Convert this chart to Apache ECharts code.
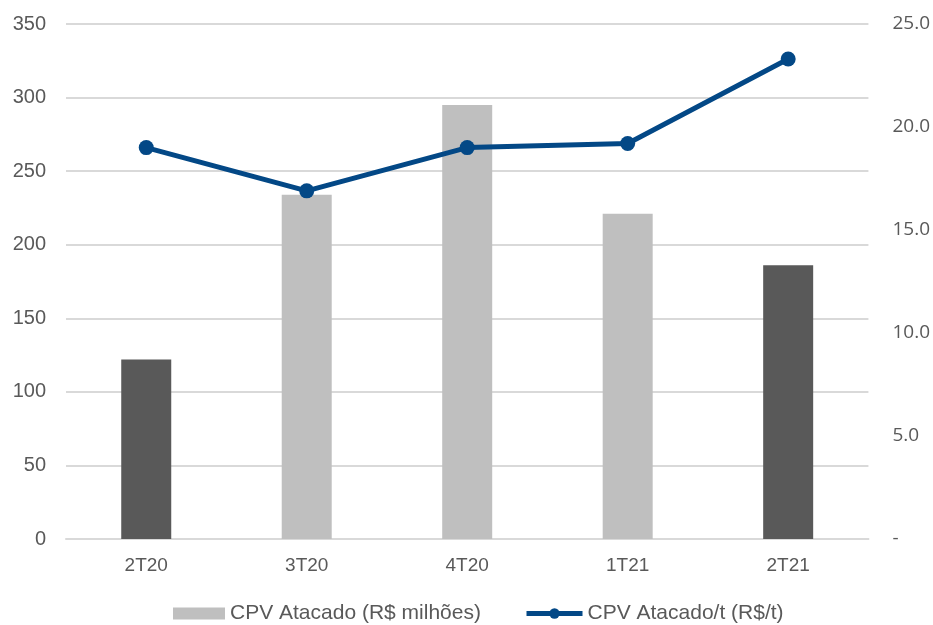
<!DOCTYPE html>
<html>
<head>
<meta charset="utf-8">
<script src="https://cdn.jsdelivr.net/npm/echarts@6/dist/echarts.min.js"></script>
<style>
  html, body { margin: 0; padding: 0; background: #ffffff; }
  #chart { width: 933px; height: 625px; }
</style>
</head>
<body>
<div id="chart"></div>
<script>
// Quarters shown on the category axis
const quarters = ['2T20', '3T20', '4T20', '1T21', '2T21'];
// Cost of goods sold, wholesale (R$ millions)
const cpvMilhoes = [122, 234, 295, 221, 186];
// Cost of goods sold per tonne (R$/t)
const cpvPorTonelada = [19.0, 16.9, 19.0, 19.2, 23.3];
// Quarters highlighted with the darker bar
const highlighted = ['2T20', '2T21'];

const barDark = '#595959';
const barLight = '#bfbfbf';
const lineBlue = '#034886';
const textGrey = '#595959';
const sans = 'Liberation Sans, Arial, sans-serif';

const chart = echarts.init(document.getElementById('chart'), null, { renderer: 'canvas' });

const barData = cpvMilhoes.map((v, i) => ({
  value: v,
  itemStyle: { color: highlighted.includes(quarters[i]) ? barDark : barLight }
}));

chart.setOption({
  animation: false,
  grid: { left: 66, right: 64, top: 24, bottom: 86, containLabel: false },
  legend: [
    {
      data: [{ name: 'CPV Atacado (R$ milhões)', icon: 'rect', itemStyle: { color: barLight } }],
      left: 173, top: 603, padding: 0,
      itemWidth: 52, itemHeight: 12, itemGap: 5,
      textStyle: { fontFamily: sans, fontSize: 21, color: textGrey }
    },
    {
      data: [{
        name: 'CPV Atacado/t (R$/t)',
        lineStyle: { color: lineBlue, width: 5 },
        itemStyle: { color: lineBlue }
      }],
      left: 524, top: 603, padding: 0,
      itemWidth: 56, itemHeight: 13, itemGap: 3,
      textStyle: { fontFamily: sans, fontSize: 21, color: textGrey }
    }
  ],
  xAxis: {
    type: 'category',
    data: quarters,
    axisLine: { lineStyle: { color: '#d9d9d9', width: 2 } },
    axisTick: { show: false },
    axisLabel: { fontFamily: sans, fontSize: 19, color: textGrey, margin: 17 }
  },
  yAxis: [
    {
      type: 'value', min: 0, max: 350, interval: 50,
      axisLine: { show: false }, axisTick: { show: false },
      splitLine: { lineStyle: { color: '#d9d9d9', width: 2 } },
      axisLabel: { fontFamily: sans, fontSize: 20, color: textGrey, margin: 20 }
    },
    {
      type: 'value', min: 0, max: 25, interval: 5,
      axisLine: { show: false }, axisTick: { show: false },
      splitLine: { show: false },
      axisLabel: {
        fontFamily: 'Open Sans, sans-serif', fontSize: 19, color: textGrey, margin: 24,
        formatter: v => v === 0 ? '-' : v.toFixed(1)
      }
    }
  ],
  series: [
    {
      name: 'CPV Atacado (R$ milhões)',
      type: 'bar',
      data: barData,
      barWidth: 50,
      itemStyle: { color: barLight }
    },
    {
      name: 'CPV Atacado/t (R$/t)',
      type: 'line',
      yAxisIndex: 1,
      data: cpvPorTonelada,
      symbol: 'circle',
      symbolSize: 15,
      lineStyle: { color: lineBlue, width: 5 },
      itemStyle: { color: lineBlue }
    }
  ]
});
</script>
</body>
</html>
